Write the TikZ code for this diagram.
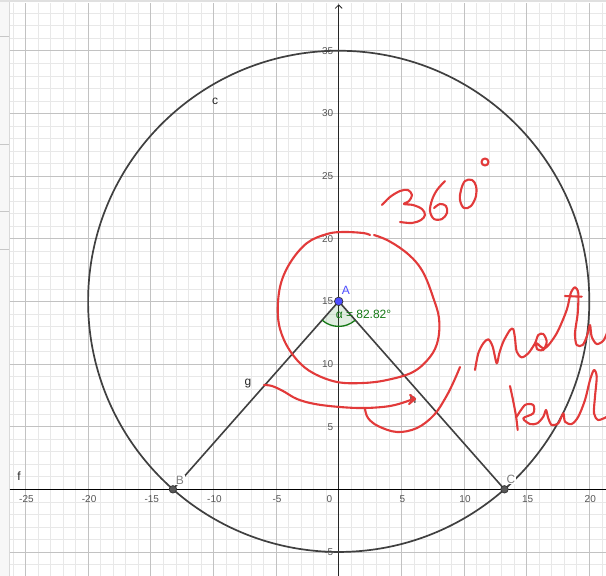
\documentclass[tikz,border=0pt]{standalone}
\usepackage{fontspec}
\setmainfont{Liberation Sans}
\usetikzlibrary{arrows.meta}
\definecolor{minorgrid}{RGB}{232,232,232}
\definecolor{majorgrid}{RGB}{194,194,194}
\definecolor{geoline}{RGB}{64,64,64}
\definecolor{axisnum}{RGB}{85,85,85}
\definecolor{pointblue}{RGB}{77,77,255}
\definecolor{anglegreen}{RGB}{20,120,20}
\definecolor{penred}{RGB}{226,58,58}
\begin{document}
\begin{tikzpicture}[x=1pt,y=-1pt,
  penstroke/.style={draw=penred, line width=2.1pt, line cap=round, line join=round},
  ticklabel/.style={font=\fontsize{10}{10}\selectfont, text=axisnum, inner sep=0pt},
  objlabel/.style={font=\fontsize{12}{12}\selectfont, text=black!85, inner sep=0.5pt},
  ptlabel/.style={font=\fontsize{12}{12}\selectfont, text=gray, fill=white, inner sep=0.6pt},
  geopoint/.style={circle, draw=black!80, line width=0.7pt, inner sep=0pt, minimum size=7.5pt, fill=#1},
  mingrid/.style={draw=minorgrid, line width=0.6pt},
  majgrid/.style={draw=majorgrid, line width=0.8pt}
]
\useasboundingbox[fill=white] (0,0) rectangle (606,576);
% left panel strip and top border
\fill[black!3] (0,0) rectangle (9,576);
\draw[black!15, line width=0.8pt] (9.5,0) -- (9.5,576);
\foreach \yy in {36,144,211,249} \draw[black!22, line width=0.6pt] (0,\yy) -- (9,\yy);
\draw[black!12, line width=1.5pt] (0,1.2) -- (606,1.2);

\begin{scope}[shift={(338.7pt,-489.3pt)}, x=12.53pt, y=12.53pt]
  % grid
  \foreach \i in {-26,...,21} \draw[mingrid] (\i,-6.92) -- (\i,38.8);
  \foreach \j in {-6,...,38} \draw[mingrid] (-26.27,\j) -- (21.33,\j);
  \foreach \i in {-25,-20,...,20} \draw[majgrid] (\i,-6.92) -- (\i,38.8);
  \foreach \j in {-5,0,...,35} \draw[majgrid] (-26.27,\j) -- (21.33,\j);
  % axes
  \draw[black!85, line width=0.8pt, -{Straight Barb[length=3.5pt,width=7pt]}] (0,-6.92) -- (0,38.7);
  \draw[black, line width=1.6pt] (-26.27,0) -- (21.33,0);
  \node[objlabel] (flab) at (-25.52,1.06) {f};
  % tick labels
  \foreach \v in {-25,-20,-15,-10,-5,5,10,15,20} \node[ticklabel] at (\v+0.08,-0.78) {\v};
  \node[ticklabel] at (-0.75,-0.78) {0};
  \foreach \v in {-5,5,10,15,20,25,30,35} \node[ticklabel, anchor=east] at (-0.42,\v) {\v};
  % points
  \coordinate (A) at (0,15);
  \coordinate (B) at (-13.229,0);
  \coordinate (C) at (13.229,0);
  % circle c
  \draw[geoline, line width=1.7pt] (A) circle (20);
  \node[objlabel] (clab) at (-9.87,30.99) {c};
  % angle
  \fill[anglegreen, opacity=0.12] (A) -- ++(228.59:2) arc[start angle=228.59, end angle=311.41, radius=2] -- cycle;
  % segments g, h
  \draw[geoline, line width=1.6pt] (A) -- (B);
  \draw[geoline, line width=1.6pt] (A) -- (C);
  \draw[anglegreen, line width=1.3pt] (A) ++(228.59:2) arc[start angle=228.59, end angle=311.41, radius=2];
  \node[objlabel] (glab) at (-7.24,8.48) {g};
  \node[objlabel] (hlab) at (5.93,7.22) {h};
  \node[font=\fontsize{12}{12}\selectfont, text=anglegreen, inner sep=0pt] (alab) at (1.98,13.93) {α = 82.82°};
  \node[ptlabel] (Blab) at (-12.67,0.74) {B};
  \node[ptlabel] (Clab) at (13.75,0.82) {C};
  \node[font=\fontsize{12}{12}\selectfont, text=pointblue, inner sep=0pt] (Alab) at (0.58,15.91) {A};
  \node[geopoint=black!65] (Bp) at (B) {};
  \node[geopoint=black!65] (Cp) at (C) {};
  \node[geopoint=pointblue, minimum size=8.5pt] (Ap) at (A) {};
\end{scope}

% ---- red pen strokes (pixel coordinates) ----
% loop around A
\draw[penstroke] plot[smooth, tension=0.6] coordinates {(374,235) (387,240) (403,250) (416,262) (425,276) (433,297) (439,318) (438,340) (430,357) (413,372) (387,380) (363,383) (337,382) (313,373) (297,360) (284,340) (278,317) (280,287) (290,263) (307,243) (327,234) (343,232) (363,233) (370,235)};
% stroke from g towards h
\draw[penstroke] plot[smooth, tension=0.6] coordinates {(264,385) (272,386) (283,391) (297,399) (315,404) (340,407) (365,408) (390,406) (408,401) (414,398)};
\draw[penstroke] (409,404) -- (415,399) -- (410,395);
% hook
\draw[penstroke] plot[smooth, tension=0.6] coordinates {(365,409) (368,418) (378,426) (397,432) (417,428) (434,415) (446,397) (454,381) (460,367)};
% 360 degrees
\draw[penstroke] plot[smooth, tension=0.55] coordinates {(382,205) (390,197) (400,191) (408,190) (412,195) (409,201) (404,204) (413,205) (422,209) (425,215) (421,220) (412,223) (400,222)};
\draw[penstroke] plot[smooth, tension=0.55] coordinates {(445,181) (437,190) (432,200) (430,211) (434,219) (442,219) (447,213) (446,206) (440,204) (434,208)};
\draw[penstroke] plot[smooth cycle, tension=0.6] coordinates {(465,181) (461,190) (460,200) (464,208) (471,206) (476,196) (476,186) (472,180)};
\draw[penstroke] (485,162) circle (3.5);
% first handwritten word
\draw[penstroke] plot[smooth, tension=0.5] coordinates {(475,370) (478.3,353.3) (483.3,343.3) (488.3,339.3) (492.7,346.7) (496.7,363.3) (499.3,353.3) (503.3,341.7) (510,330) (513.3,329.3) (515,338.3) (516.7,351.7) (521.7,357.3) (528.3,353.3) (535,343.3) (538.3,335) (543.3,334) (546.7,341.7) (543.3,350) (537.3,349.3) (536.7,343.3) (545,348.3) (556.7,333.3) (566.7,310) (570.7,293.3) (575,287.3) (578.3,293.3) (577.7,313.3) (575,333.3) (576.7,345) (582.7,345) (587.3,335) (590,325) (591.7,336.7) (596.7,344) (603.3,340.7) (607,333)};
\draw[penstroke] (565,296) -- (581.7,296.7);
% second handwritten word
\draw[penstroke] plot[smooth, tension=0.5] coordinates {(510,386) (513,400) (516,416) (517.7,430)};
\draw[penstroke] plot[smooth, tension=0.5] coordinates {(516.7,416.7) (525,405) (533.3,405) (533.3,413.3) (523.3,418.3) (530,424) (537.3,423.3) (543.3,416.7) (546,410) (548.3,418.3) (551.7,425) (558.3,423.3) (563.3,413.3) (565,421.7) (571.7,424) (578.3,416.7) (585,400) (590,380) (594,370) (596.7,376.7) (595,396.7) (594,413.3) (598.3,420) (607,416.7)};
\end{tikzpicture}
\end{document}
